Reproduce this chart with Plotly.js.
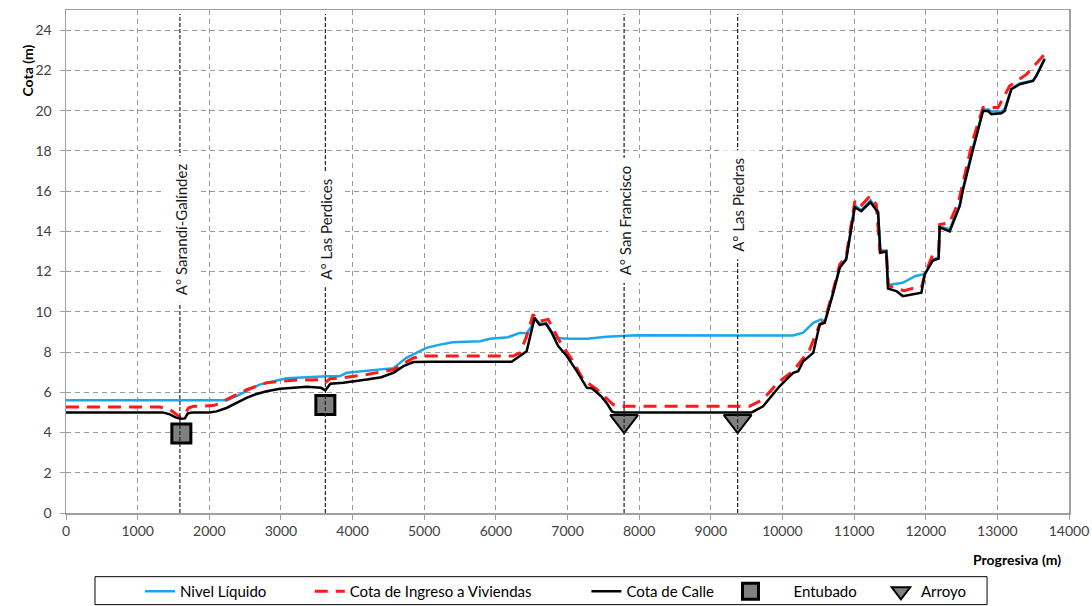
<!DOCTYPE html>
<html>
<head>
<meta charset="utf-8">
<script src="https://cdn.plot.ly/plotly-3.0.1.min.js"></script>
<style>
  html, body { margin: 0; padding: 0; background: #ffffff; }
  #chart { width: 1092px; height: 606px; }
</style>
</head>
<body>
<div id="chart"></div>
<script>
// ---- Data ----
const calleX = [0, 1350, 1450, 1530, 1600, 1660, 1700, 1760, 2000, 2100, 2240, 2400, 2520, 2650, 2800, 2990, 3200, 3360, 3560, 3620, 3690, 3870, 4200, 4400, 4570, 4710, 4850, 5100, 6220, 6430, 6540, 6610, 6700, 6780, 6870, 6990, 7130, 7270, 7340, 7470, 7550, 7620, 7660, 9570, 9730, 9960, 10150, 10220, 10290, 10430, 10520, 10590, 10710, 10800, 10890, 11010, 11100, 11230, 11335, 11367, 11450, 11474, 11590, 11680, 11940, 11986, 12100, 12180, 12195, 12335, 12474, 12521, 12660, 12800, 12870, 12916, 13056, 13102, 13195, 13312, 13498, 13544, 13660];
const calleY = [5.0, 5.0, 4.9, 4.75, 4.68, 4.7, 4.95, 5.0, 5.0, 5.05, 5.22, 5.5, 5.72, 5.9, 6.05, 6.17, 6.22, 6.27, 6.22, 6.1, 6.43, 6.47, 6.63, 6.75, 6.97, 7.3, 7.5, 7.52, 7.52, 8.04, 9.7, 9.35, 9.4, 8.96, 8.3, 7.8, 7.05, 6.22, 6.2, 5.8, 5.45, 5.05, 5.0, 5.0, 5.3, 6.3, 6.97, 7.05, 7.54, 7.96, 9.37, 9.45, 10.95, 12.19, 12.6, 15.2, 15.0, 15.45, 14.93, 12.94, 13.0, 11.15, 11.03, 10.78, 10.95, 11.86, 12.55, 12.65, 14.2, 14.0, 15.25, 16.08, 18.07, 19.98, 19.98, 19.82, 19.87, 19.98, 21.06, 21.31, 21.47, 21.72, 22.55];

const ingresoX = [0, 1310, 1450, 1520, 1600, 1660, 1710, 1780, 2055, 2150, 2240, 2520, 2800, 3170, 3540, 3615, 3685, 3870, 4200, 4570, 4700, 4850, 4990, 6240, 6335, 6430, 6520, 6610, 6730, 6800, 6890, 7060, 7220, 7400, 7520, 7640, 7730, 9540, 9730, 9940, 10150, 10380, 10520, 10590, 10710, 10800, 10890, 11010, 11080, 11220, 11310, 11360, 11450, 11480, 11590, 11700, 11800, 11940, 11990, 12100, 12180, 12195, 12335, 12460, 12520, 12660, 12800, 13010, 13170, 13405, 13660];
const ingresoY = [5.27, 5.27, 5.14, 4.95, 4.75, 4.9, 5.22, 5.3, 5.34, 5.45, 5.64, 6.13, 6.47, 6.6, 6.63, 6.47, 6.67, 6.72, 6.88, 7.13, 7.4, 7.71, 7.8, 7.8, 7.96, 8.79, 9.87, 9.53, 9.62, 9.13, 8.54, 7.63, 6.63, 6.17, 5.8, 5.39, 5.3, 5.3, 5.64, 6.5, 7.05, 8.12, 9.37, 9.55, 11.1, 12.35, 12.75, 15.5, 15.2, 15.75, 15.34, 13.0, 13.05, 11.3, 11.15, 11.05, 11.15, 11.2, 11.9, 12.85, 12.9, 14.34, 14.43, 15.5, 16.42, 18.57, 20.15, 20.15, 21.22, 21.8, 22.8];

const nivelX = [0, 2250, 2400, 2700, 2900, 3080, 3640, 3820, 3920, 4380, 4570, 4750, 4940, 5030, 5220, 5400, 5780, 5920, 6170, 6340, 6430, 6500, 6550, 6620, 6700, 6780, 6820, 7030, 7270, 7545, 7960, 8660, 9590, 10150, 10290, 10430, 10540, 10590, 10710, 10800, 10890, 11010, 11100, 11230, 11335, 11367, 11450, 11474, 11520, 11680, 11850, 11960, 12000, 12100, 12180, 12195, 12335, 12474, 12521, 12660, 12800, 12880, 12920, 13056, 13102, 13195, 13312, 13498, 13544, 13660];
const nivelY = [5.6, 5.6, 5.85, 6.38, 6.55, 6.7, 6.8, 6.8, 6.97, 7.13, 7.2, 7.71, 8.04, 8.21, 8.37, 8.49, 8.54, 8.66, 8.74, 8.96, 8.92, 9.3, 9.65, 9.4, 9.45, 9.0, 8.7, 8.66, 8.66, 8.76, 8.84, 8.84, 8.82, 8.82, 8.96, 9.45, 9.62, 9.5, 11.0, 12.25, 12.65, 15.3, 15.05, 15.55, 15.0, 13.0, 13.05, 11.3, 11.36, 11.44, 11.77, 11.86, 11.95, 12.6, 12.7, 14.25, 14.1, 15.3, 16.15, 18.2, 20.05, 20.05, 19.95, 19.95, 20.1, 21.1, 21.35, 21.5, 21.75, 22.6];

const entubadoX = [1610, 3620];
const entubadoY = [3.95, 5.37];

const arroyoMarkX = [7790, 9375];
const arroyoMarkY = [4.57, 4.57];

const arroyoNames = ["A° Sarandí-Galíndez", "A° Las Perdices", "A° San Francisco", "A° Las Piedras"];
const arroyoX = [1590, 3620, 7790, 9375];
const labelY = [14.1, 14.1, 14.55, 15.3];

const seriesNames = ["Nivel Líquido", "Cota de Ingreso a Viviendas", "Cota de Calle", "Entubado", "Arroyo"];

// ---- Chart ----
const FONT = "Lato, 'Open Sans', sans-serif";
const sp = n => "\u00a0".repeat(n);

const traces = [
  { x: nivelX, y: nivelY, name: seriesNames[0] + sp(10), type: "scatter", mode: "lines",
    line: { color: "#1aa7e8", width: 2.5 } },
  { x: ingresoX, y: ingresoY, name: seriesNames[1] + sp(13), type: "scatter", mode: "lines",
    line: { color: "#ff1a1a", width: 3, dash: "13px,8px" } },
  { x: calleX, y: calleY, name: seriesNames[2] + sp(3), type: "scatter", mode: "lines",
    line: { color: "#000000", width: 2.5 } },
  { x: entubadoX, y: entubadoY, name: sp(6) + seriesNames[3] + sp(5), type: "scatter", mode: "markers",
    marker: { symbol: "square", size: 19, color: "#808080", line: { color: "#000000", width: 3 } } },
  { x: arroyoMarkX, y: arroyoMarkY, name: seriesNames[4], type: "scatter", mode: "markers",
    marker: { symbol: "triangle-down", size: 24, color: "#808080", line: { color: "#000000", width: 2 } } }
];

const shapes = arroyoX.map(v => ({
  type: "line", xref: "x", yref: "y", x0: v, x1: v, y0: 0, y1: 24.8,
  line: { color: "#222222", width: 1.2, dash: "4px,2px" }, layer: "above"
}));
// legend frame
shapes.push({
  type: "rect", xref: "paper", yref: "paper", x0: 0.0289, x1: 0.9183, y0: -0.1822, y1: -0.1266,
  line: { color: "#000000", width: 1 }, fillcolor: "rgba(0,0,0,0)", layer: "above"
});

const annotations = arroyoNames.map((n, i) => ({
  text: n, x: arroyoX[i], y: labelY[i], xref: "x", yref: "y", xshift: 1,
  showarrow: false, textangle: -90, bgcolor: "#ffffff", borderpad: 7,
  font: { family: FONT, size: 15, color: "#1a1a1a" }
}));

annotations.push({
  text: "<b>Cota (m)</b>", xref: "paper", yref: "paper", x: -0.049, y: 0.936,
  showarrow: false, textangle: -90, font: { family: FONT, size: 14, color: "#000" }
});
annotations.push({
  text: "<b>Progresiva (m)</b>", xref: "paper", yref: "paper", x: 0.994, xanchor: "right",
  y: -0.093, yanchor: "middle", showarrow: false, font: { family: FONT, size: 14, color: "#000" }
});

const axisCommon = {
  showgrid: true, gridcolor: "#9a9a9a", gridwidth: 1, griddash: "5px,4px",
  showline: true, linecolor: "#a0a0a0", linewidth: 1.5, mirror: true,
  ticks: "outside", ticklen: 5, tickcolor: "#a0a0a0", zeroline: false,
  tickfont: { family: FONT, size: 14, color: "#404040" }
};

const layout = {
  width: 1092, height: 606,
  margin: { l: 66, r: 23, t: 10, b: 93, autoexpand: false },
  paper_bgcolor: "#ffffff", plot_bgcolor: "#ffffff",
  font: { family: FONT },
  showlegend: true,
  legend: {
    orientation: "h", xref: "container", yref: "container",
    x: 140 / 1092, xanchor: "left", y: 1 - 575 / 606, yanchor: "top",
    borderwidth: 0, bgcolor: "rgba(255,255,255,0)",
    font: { family: FONT, size: 15, color: "#000" }
  },
  xaxis: Object.assign({}, axisCommon, { range: [0, 14000], dtick: 1000, tick0: 0, tickformat: "d" }),
  yaxis: Object.assign({}, axisCommon, { range: [0, 25], dtick: 2, tick0: 0, ticklabelstandoff: 5 }),
  shapes: shapes,
  annotations: annotations
};

Plotly.newPlot("chart", traces, layout, { displayModeBar: false, staticPlot: true });
</script>
</body>
</html>
